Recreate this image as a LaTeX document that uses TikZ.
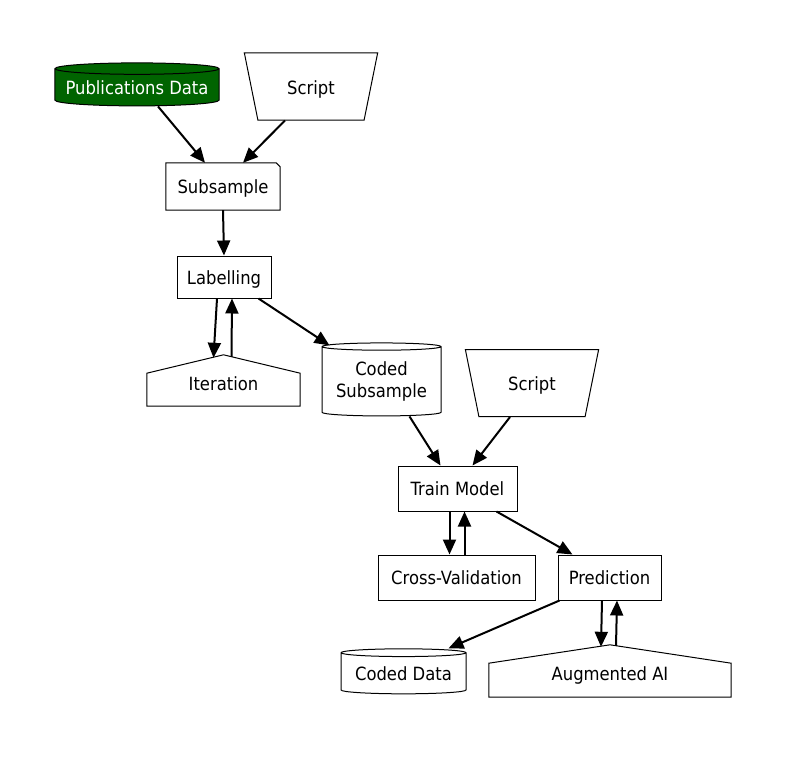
\documentclass[tikz,border=0pt]{standalone}
\usepackage{fontspec}
\setmainfont{DejaVu Sans Condensed}
\usetikzlibrary{calc,shapes.geometric,arrows.meta}
\definecolor{pubgreen}{HTML}{006400}
\tikzset{
  box/.style={draw,rectangle,line width=1bp,inner sep=0pt,text height=14bp,text depth=0pt},
  plain/.style={rectangle,inner sep=0pt,text height=14bp,text depth=0pt},
  store/.style={draw,cylinder,shape border rotate=90,aspect=0.08,line width=1bp,inner sep=0pt,align=center},
  script/.style={draw,trapezium,trapezium angle=68,shape border rotate=180,trapezium stretches=true,line width=1bp,inner sep=0pt,minimum width=134bp,minimum height=67bp,text height=15bp,text depth=0pt},
  flow/.style={-{Triangle[length=15bp,width=13bp]},line width=2bp},
}
\begin{document}
\begin{tikzpicture}[x=1bp,y=-1bp,font=\fontsize{18.3}{23}\selectfont]
\useasboundingbox (0,0) rectangle (786,758);

% sources
\draw node [store,fill=pubgreen,text=white,minimum width=164bp,minimum height=43bp] at (137,87.5) (pub){Publications Data};
\draw node [script] at (311,86.5) (script1){Script};

% sampling and labelling
\draw node [plain,minimum width=114bp,minimum height=47bp] at (223,186.5) (sub){Subsample};
\draw [line width=1bp] (sub.north west) -- ($(sub.north east)+(-4,0)$) -- ($(sub.north east)+(0,4)$) -- (sub.south east) -- (sub.south west) -- cycle;
\draw node [box,minimum width=94bp,minimum height=42bp] at (224,277) (lab){Labelling};
\draw node [plain,minimum width=153bp,minimum height=51bp,text height=19bp] at (223.5,380.5) (iter){Iteration};
\draw [line width=1bp] (iter.south west) -- ($(iter.south west)+(0,-33)$) -- (iter.north) -- ($(iter.south east)+(0,-33)$) -- (iter.south east) -- cycle;
\draw node [store,minimum width=119bp,minimum height=73bp] at (381.5,381.5) (codsub){Coded\\Subsample};
\draw node [script] at (532,383) (script2){Script};

% model
\draw node [box,minimum width=119bp,minimum height=45bp] at (457.5,488.5) (train){Train Model};
\draw node [box,minimum width=157bp,minimum height=45bp] at (456.5,577.5) (cv){Cross-Validation};
\draw node [box,minimum width=103bp,minimum height=45bp] at (609.5,577.5) (pred){Prediction};
\draw node [store,minimum width=125bp,minimum height=45bp] at (403.5,673.5) (coddata){Coded Data};
\draw node [plain,minimum width=242bp,minimum height=52bp,text height=18bp] at (610,671) (aug){Augmented AI};
\draw [line width=1bp] (aug.south west) -- ($(aug.south west)+(0,-34)$) -- (aug.north) -- ($(aug.south east)+(0,-34)$) -- (aug.south east) -- cycle;

% edges
\draw[flow] ($(pub.south)+(21,0)$) -- ($(sub.north)+(-18,0)$);
\draw[flow] ($(script1.south)+(-26,0)$) -- ($(sub.north)+(20,0)$);
\draw[flow] (sub.south) -- (lab.north);
\draw[flow] ($(lab.south)+(-7,0)$) -- ($(iter.north)+(-10,3)$);
\draw[flow] ($(iter.north)+(8,2)$) -- ($(lab.south)+(8,0)$);
\draw[flow] ($(lab.south east)+(-13,0)$) -- ($(codsub.north)+(-52,3)$);
\draw[flow] ($(codsub.south)+(28,0)$) -- ($(train.north)+(-17,0)$);
\draw[flow] ($(script2.south)+(-22,0)$) -- ($(train.north)+(15,0)$);
\draw[flow] ($(train.south)+(-8,0)$) -- ($(cv.north)+(-7,0)$);
\draw[flow] ($(cv.north)+(8,0)$) -- ($(train.south)+(7,0)$);
\draw[flow] ($(train.south east)+(-21,0)$) -- ($(pred.north west)+(15,0)$);
\draw[flow] ($(pred.south west)+(2,0)$) -- ($(coddata.north)+(45,0)$);
\draw[flow] ($(pred.south)+(-7.5,0)$) -- ($(aug.north)+(-9,2)$);
\draw[flow] ($(aug.north)+(6,1)$) -- ($(pred.south)+(7.5,0)$);

\end{tikzpicture}
\end{document}
